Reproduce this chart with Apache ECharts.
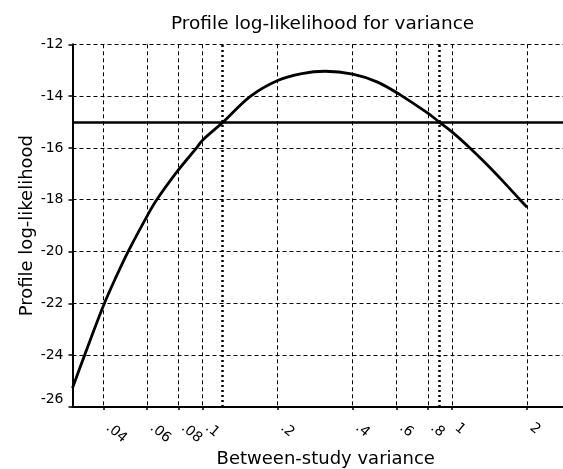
<!DOCTYPE html>
<html><head><meta charset="utf-8">
<script src="https://cdn.jsdelivr.net/npm/echarts@6/dist/echarts.min.js"></script>
<style>html,body{margin:0;padding:0;background:#fff}#c{width:563px;height:469px}</style>
</head><body><div id="c"></div>
<script>
// Between-study variance (x) and profile log-likelihood (y)
const variance = [0.0301, 0.0338, 0.04, 0.045, 0.0503, 0.06, 0.0655, 0.08, 0.0946, 0.1, 0.121, 0.155, 0.2, 0.25, 0.31, 0.4, 0.5, 0.62, 0.8, 0.889, 1.0, 1.18, 1.377, 1.606, 1.873, 2.0];
const logLik   = [-25.27, -23.95, -22.1, -20.98, -20.0, -18.62, -18.0, -16.85, -16.0, -15.7, -15.0, -14.02, -13.4, -13.13, -13.04, -13.15, -13.45, -13.95, -14.66, -15.0, -15.38, -16.0, -16.63, -17.3, -18.0, -18.29];
const xTickValues = [0.04, 0.06, 0.08, 0.1, 0.2, 0.4, 0.6, 0.8, 1, 2];
const xTickLabels = ['.04', '.06', '.08', '.1', '.2', '.4', '.6', '.8', '1', '2'];
const xRange = [0.0301, 2.786];
const yRange = [-26, -12];
const yStep = 2;
const ciBounds = [0.121, 0.889];
const cutoff = -15;
const titleText = 'Profile log-likelihood for variance';
const xName = 'Between-study variance';
const yName = 'Profile log-likelihood';

const FONT = 'DejaVu Sans';
const lg = v => Math.log10(v);
const seriesData = variance.map((v, i) => [lg(v), logLik[i]]);
const tickLogs = xTickValues.map(lg);

const chart = echarts.init(document.getElementById('c'), null, {renderer: 'canvas'});
chart.setOption({
  animation: false,
  backgroundColor: '#fff',
  title: {
    text: titleText, left: 166, top: 10,
    textStyle: {fontFamily: FONT, fontSize: 18.5, fontWeight: 'normal', color: '#000'}
  },
  grid: {left: 72.5, right: 0, top: 44.3, bottom: 62, containLabel: false, outerBoundsMode: 'none'},
  xAxis: {
    type: 'value', min: lg(xRange[0]), max: lg(xRange[1]),
    name: xName, nameLocation: 'middle', nameGap: 43, nameMoveOverlap: false,
    nameTextStyle: {fontFamily: FONT, fontSize: 18, color: '#000', padding: [0, 0, 0, 16]},
    axisLine: {show: true, onZero: false, lineStyle: {color: '#000', width: 2}},
    axisTick: {show: true, customValues: tickLogs, length: 3, lineStyle: {color: '#000', width: 1.5}},
    axisLabel: {
      customValues: tickLogs, rotate: -40, margin: 15, padding: [0, 0, 0, 6],
      fontFamily: FONT, fontSize: 14, color: '#000',
      formatter: v => {
        const i = tickLogs.findIndex(t => Math.abs(t - v) < 1e-6);
        return i >= 0 ? xTickLabels[i] : '';
      }
    },
    splitLine: {show: true, lineStyle: {color: '#000', width: 1, type: [4, 3]}}
  },
  yAxis: {
    type: 'value', min: yRange[0], max: yRange[1], interval: yStep,
    name: yName, nameLocation: 'middle', nameGap: 36, nameRotate: 90, nameMoveOverlap: false,
    nameTextStyle: {fontFamily: FONT, fontSize: 18, color: '#000'},
    axisLine: {show: true, onZero: false, lineStyle: {color: '#000', width: 2}},
    axisTick: {show: true, length: 4, lineStyle: {color: '#000', width: 1.5}},
    axisLabel: {
      margin: 9, fontFamily: FONT, fontSize: 14, color: '#000',
      formatter: v => v === yRange[0] ? '{low|' + v + '}' : String(v),
      rich: {low: {fontFamily: FONT, fontSize: 14, color: '#000', padding: [0, 0, 16, 0]}}
    },
    splitLine: {show: true, lineStyle: {color: '#000', width: 1, type: [4, 3]}}
  },
  series: [{
    type: 'line', data: seriesData, smooth: 0.35, symbol: 'none',
    lineStyle: {color: '#000', width: 2.8}, z: 5,
    markLine: {
      silent: true, symbol: 'none', label: {show: false},
      data: [
        {yAxis: cutoff, lineStyle: {color: '#000', width: 2.5, type: 'solid'}},
        {xAxis: lg(ciBounds[0]), lineStyle: {color: '#000', width: 2.5, type: [2, 3]}},
        {xAxis: lg(ciBounds[1]), lineStyle: {color: '#000', width: 2.5, type: [2, 3]}}
      ]
    }
  }]
});
</script>
</body></html>
